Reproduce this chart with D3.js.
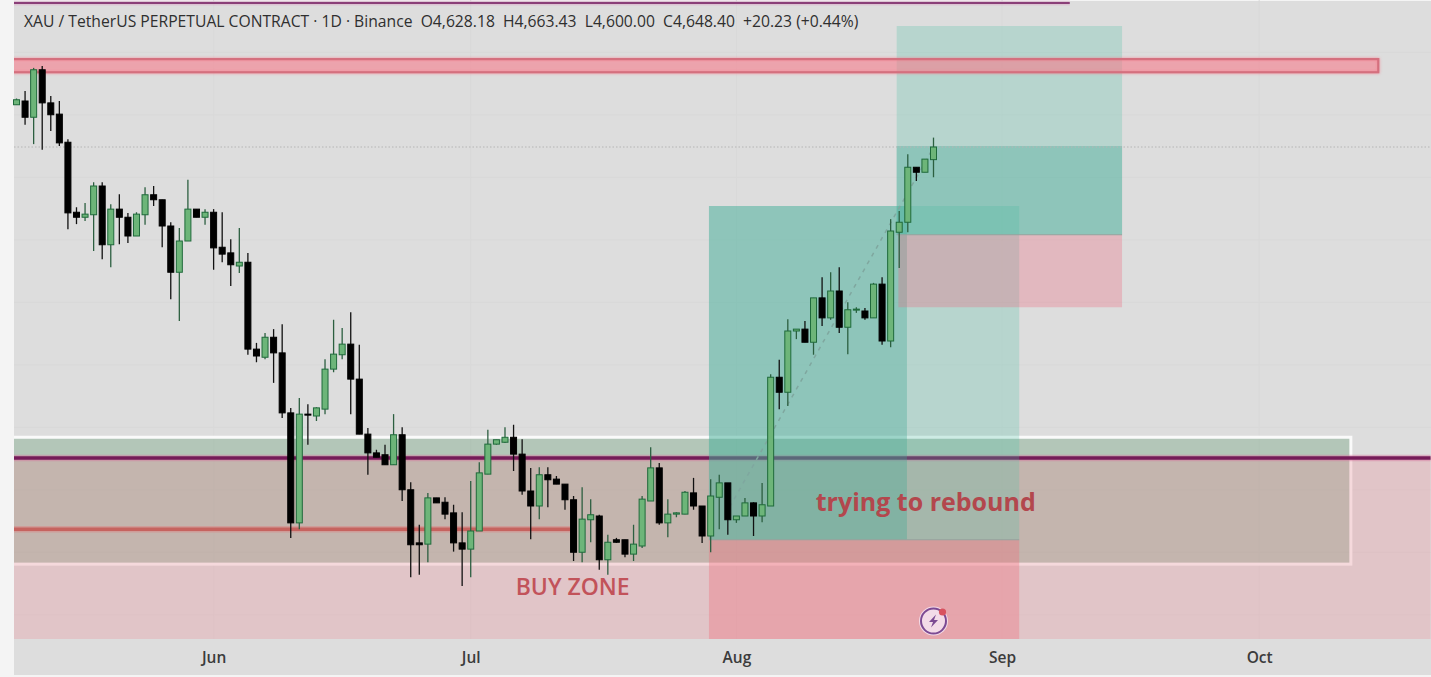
<!DOCTYPE html>
<html>
<head>
<meta charset="utf-8">
<title>XAU / TetherUS</title>
<script src="https://cdn.jsdelivr.net/npm/d3@7"></script>
<style>
html, body { margin: 0; padding: 0; background: #f4f4f4; overflow: hidden; }
svg { display: block; }
text { font-family: "Open Sans", "Noto Sans", sans-serif; }
</style>
</head>
<body>
<div class="chart"></div>
<script>
//// Daily candles. Day 0 is 9 May
const opens = [4716,4722,4696,4772,4719,4701,4656,4544,4536,4540,4586,4492,4549,4536,4506,4540,4572,4564,4522,4448,4498,4549,4536,4544,4488,4479,4458,4464,4325,4312,4344,4319,4223,4047,4221,4218,4229,4293,4316,4333,4277,4189,4159,4156,4140,4188,4100,4015,4013,4087,4080,4063,4015,4005,4034,4125,4173,4176,4184,4157,4098,4074,4124,4117,4109,4084,4000,4052,4058,3988,4020,4020,3997,4010,4082,4135,4047,4061,4061,4095,4074,4026,4088,4111,4052,4058,4079,4058,4074,4280,4256,4354,4357,4336,4407,4375,4418,4360,4388,4386,4375,4429,4338,4512,4528,4616,4608,4628.18];
const highs = [4726,4738,4775,4778,4730,4722,4661,4552,4559,4592,4592,4557,4573,4543,4544,4584,4586,4564,4528,4519,4596,4549,4549,4549,4544,4501,4519,4479,4335,4351,4357,4365,4231,4247,4237,4232,4309,4372,4359,4384,4332,4199,4164,4172,4221,4200,4112,4044,4095,4087,4088,4076,4064,4114,4144,4196,4180,4200,4204,4181,4135,4136,4136,4122,4109,4090,4104,4085,4060,4028,4023,4020,4044,4090,4168,4143,4085,4064,4098,4119,4074,4117,4124,4111,4058,4087,4080,4111,4285,4308,4373,4357,4370,4407,4440,4448,4456,4400,4392,4391,4431,4440,4533,4546,4637,4616,4629,4663.43];
const lows = [4716,4684,4653,4644,4674,4650,4517,4525,4530,4482,4469,4456,4493,4495,4506,4524,4554,4488,4405,4370,4498,4536,4524,4452,4464,4426,4447,4316,4304,4309,4271,4215,4023,4037,4172,4210,4221,4288,4309,4221,4189,4124,4152,4140,4140,4082,3960,3964,3984,4079,4053,4001,3946,3960,4034,4125,4172,4175,4130,4092,4021,4053,4072,4109,4068,3986,3984,4016,3972,3964,4015,3992,3986,4007,4082,4044,4024,4056,4061,4068,4015,4000,4037,4028,4047,4058,4026,4048,4074,4229,4234,4341,4336,4316,4362,4372,4351,4317,4383,4372,4375,4332,4328,4455,4512,4594,4608,4600];
const closes = [4724,4696,4772,4719,4700,4655,4543,4536,4541,4586,4492,4549,4536,4506,4541,4572,4564,4522,4448,4498,4549,4536,4544,4487,4477,4460,4464,4325,4314,4344,4319,4223,4047,4221,4220,4231,4293,4317,4333,4277,4189,4159,4152,4140,4188,4100,4012,4012,4087,4079,4061,4015,4005,4034,4127,4173,4180,4184,4157,4098,4074,4124,4116,4109,4084,4000,4053,4060,3988,4016,4016,3997,4013,4085,4135,4047,4061,4063,4096,4074,4026,4090,4111,4052,4058,4079,4058,4076,4280,4256,4354,4357,4336,4407,4375,4418,4360,4388,4389,4375,4429,4338,4514,4528,4616,4608,4629,4648.4];

const monthDays = [23,53,84,115,145];
const monthLabels = ['Jun','Jul','Aug','Sep','Oct'];

// zones: [first day, last day, top price, bottom price]
const resistanceZone = [-2,158.9,4789,4768];
const lowerPinkZone = [-2,165,4151,3861];
const buyBox = [-2,155.7,4184,3981];
const firstProfit = [80.8,117,4554,4020];
const firstProfitDark = [80.8,103.9,4554,4020];
const firstStop = [80.8,117,4020,3861];
const secondProfit = [102.7,129,4842,4508];
const secondProfitDark = [102.7,129,4650,4508];
const secondStop = [102.9,129,4508,4392];

// levels: [first day, last day, price]
const topLine = [-2,122.9,4879];
const purpleLevel = [-2,165,4151];
const redLevel = [-2,64.6,4037];
const firstEntry = [80.8,117,4020];
const secondEntry = [102.7,129,4508];
const trendDays = [82.7,107];
const trendPrices = [4060,4648];

const legendText = 'XAU / TetherUS PERPETUAL CONTRACT \u00b7 1D \u00b7 Binance';
const legendValues = 'O4,628.18  H4,663.43  L4,600.00  C4,648.40  +20.23 (+0.44%)';


const w = 1431, h = 677, plotLeft = 14, plotBottom = 639;

const x = d3.scaleLinear().domain([0,107]).range([16.5,933.5]);
const y = d3.scaleLinear().domain([4883.6,3861.2]).range([0,plotBottom]);

const svg = d3.select('.chart')
    .append('svg')
    .attr('width', w)
    .attr('height', h);

svg.append('clipPath')
    .attr('id', 'plotclip')
    .append('rect')
    .attr('x', plotLeft)
    .attr('y', 0)
    .attr('width', w-plotLeft)
    .attr('height', plotBottom);

svg.append('rect')
    .attr('x', plotLeft)
    .attr('y', 1)
    .attr('width', w-plotLeft)
    .attr('height', 674)
    .style('fill', '#dddddd');

// grid
const grid = svg.append('g');
grid.selectAll('.hgrid')
    .data(y.ticks(10))
    .enter().append('line')
    .attr('class', 'hgrid')
    .attr('x1', plotLeft)
    .attr('x2', w)
    .attr('y1', d => y(d))
    .attr('y2', d => y(d))
    .style('stroke', '#d8d8d8')
    .style('stroke-width', 1);
grid.selectAll('.vgrid')
    .data(monthDays)
    .enter().append('line')
    .attr('class', 'vgrid')
    .attr('x1', d => x(d))
    .attr('x2', d => x(d))
    .attr('y1', 0)
    .attr('y2', plotBottom)
    .style('stroke', '#d9d9d9')
    .style('stroke-width', 1);

const zones = svg.append('g')
    .attr('clip-path', 'url(#plotclip)');

function drawZone(z, fill, stroke, strokeWidth){
    const r = zones.append('rect')
        .attr('x', x(z[0]))
        .attr('y', y(z[2]))
        .attr('width', x(z[1])-x(z[0]))
        .attr('height', y(z[3])-y(z[2]))
        .style('fill', fill);
    if(stroke){
        r.style('stroke', stroke).style('stroke-width', strokeWidth);
    }
}

function drawLevel(l, color, width, halo){
    const lines = halo ? [[halo, width+3],[color, width]] : [[color, width]];
    lines.forEach(d => {
        zones.append('line')
            .attr('x1', x(l[0]))
            .attr('x2', x(l[1]))
            .attr('y1', y(l[2]))
            .attr('y2', y(l[2]))
            .style('stroke', d[0])
            .style('stroke-width', d[1]);
    });
}

// big zones, back to front. pink goes over the box so the box's lower edge turns pinkish
drawZone(buyBox, 'rgba(94,151,108,.33)', '#fafafa', 3);
drawZone(lowerPinkZone, 'rgba(234,144,151,.3)');
drawLevel(redLevel, '#c6635f', 3.5, 'rgba(225,120,120,.4)');
drawLevel(purpleLevel, '#751b58', 3.5, 'rgba(215,120,160,.45)');

// the two long positions
drawZone(firstProfit, 'rgba(73,193,165,.25)');
drawZone(firstProfitDark, 'rgba(67,168,150,.35)');
drawZone(firstStop, 'rgba(242,106,120,.35)');
drawZone(secondProfit, 'rgba(73,193,165,.25)');
drawZone(secondProfitDark, 'rgba(67,168,150,.35)');
drawZone(secondStop, 'rgba(238,101,124,.3)');
drawLevel(firstEntry, '#93a39e', 1);
drawLevel(secondEntry, '#93a39e', 1);

drawZone(resistanceZone, 'rgba(246,125,140,.4)', '#d4707e', 2.2);
zones.select('rect:last-child')
    .style('filter', 'drop-shadow(0 0 1.5px rgba(255,110,130,.7))');
drawLevel(topLine, '#8a3f78', 2, 'rgba(215,150,190,.35)');

// current price line
svg.append('line')
    .attr('x1', plotLeft)
    .attr('x2', w)
    .attr('y1', y(closes[closes.length-1]))
    .attr('y2', y(closes[closes.length-1]))
    .style('stroke', '#b5b5b5')
    .style('stroke-width', 1)
    .style('stroke-dasharray', '1.5 2');

// dashed trend
svg.append('path')
    .datum(trendDays.map((d,i) => [d,trendPrices[i]]))
    .attr('d', d3.line().x(d => x(d[0])).y(d => y(d[1])))
    .style('fill', 'none')
    .style('stroke', '#7fa79f')
    .style('stroke-width', 1.5)
    .style('stroke-dasharray', '4 5');

// candles
const candleData = opens.map((d,i) => ({
    day: i,
    open: d,
    high: highs[i],
    low: lows[i],
    close: closes[i]
}));

const candles = svg.append('g')
    .style('filter', 'blur(.3px)')
    .selectAll('.candle')
    .data(candleData)
    .enter().append('g')
    .attr('class', 'candle');

candles.append('line')
    .attr('x1', d => x(d.day))
    .attr('x2', d => x(d.day))
    .attr('y1', d => y(d.high))
    .attr('y2', d => y(d.low))
    .style('stroke', d => d.close >= d.open ? '#2c5f40' : '#111')
    .style('stroke-width', 1.3);

candles.append('rect')
    .attr('x', d => x(d.day)-3)
    .attr('width', 6)
    .attr('y', d => y(Math.max(d.open,d.close)))
    .attr('height', d => Math.max(1, Math.abs(y(d.open)-y(d.close))))
    .style('fill', d => d.close >= d.open ? '#6db579' : '#000')
    .style('stroke', d => d.close >= d.open ? '#1f6a3b' : '#000')
    .style('stroke-width', 1);

// notes
svg.append('text')
    .attr('x', x(64.9))
    .attr('y', y(3932))
    .attr('text-anchor', 'middle')
    .style('font-size', '23px')
    .style('font-weight', 600)
    .style('fill', '#c2535a')
    .text('BUY ZONE');

svg.append('text')
    .attr('x', x(106.1))
    .attr('y', y(4066))
    .attr('text-anchor', 'middle')
    .style('font-size', '25px')
    .style('font-weight', 700)
    .style('fill', '#b3474d')
    .text('trying to rebound');

// bolt badge sits on the last candle's day
const badge = svg.append('g')
    .attr('transform', `translate(${x(107)},621)`);
badge.append('circle')
    .attr('r', 14.5)
    .style('fill', '#f3dbe8');
badge.append('circle')
    .attr('r', 12.5)
    .style('fill', 'none')
    .style('stroke', '#7c4a93')
    .style('stroke-width', 2);
badge.append('path')
    .attr('d', 'M2.5,-6.5 L-4.5,1 L-0.5,1 L-2.5,6.5 L4.5,-1 L0.5,-1 Z')
    .style('fill', '#7c4a93');
badge.append('circle')
    .attr('cx', 9)
    .attr('cy', -9)
    .attr('r', 3.6)
    .style('fill', '#d8525f');

// x axis
const axis = d3.axisBottom(x)
    .tickValues(monthDays)
    .tickFormat((d,i) => monthLabels[i])
    .tickSize(0);
const axisG = svg.append('g')
    .attr('transform', `translate(0,${plotBottom+10})`)
    .call(axis);
axisG.select('.domain').remove();
axisG.selectAll('text')
    .style('font-size', '15.5px')
    .style('font-weight', 600)
    .style('fill', '#3b3b3b');

// legend
svg.append('text')
    .attr('x', 24)
    .attr('y', 27)
    .attr('xml:space', 'preserve')
    .style('font-size', '15.7px')
    .style('fill', '#2f2f2f')
    .text(legendText + '  ' + legendValues);
</script>
</body>
</html>
